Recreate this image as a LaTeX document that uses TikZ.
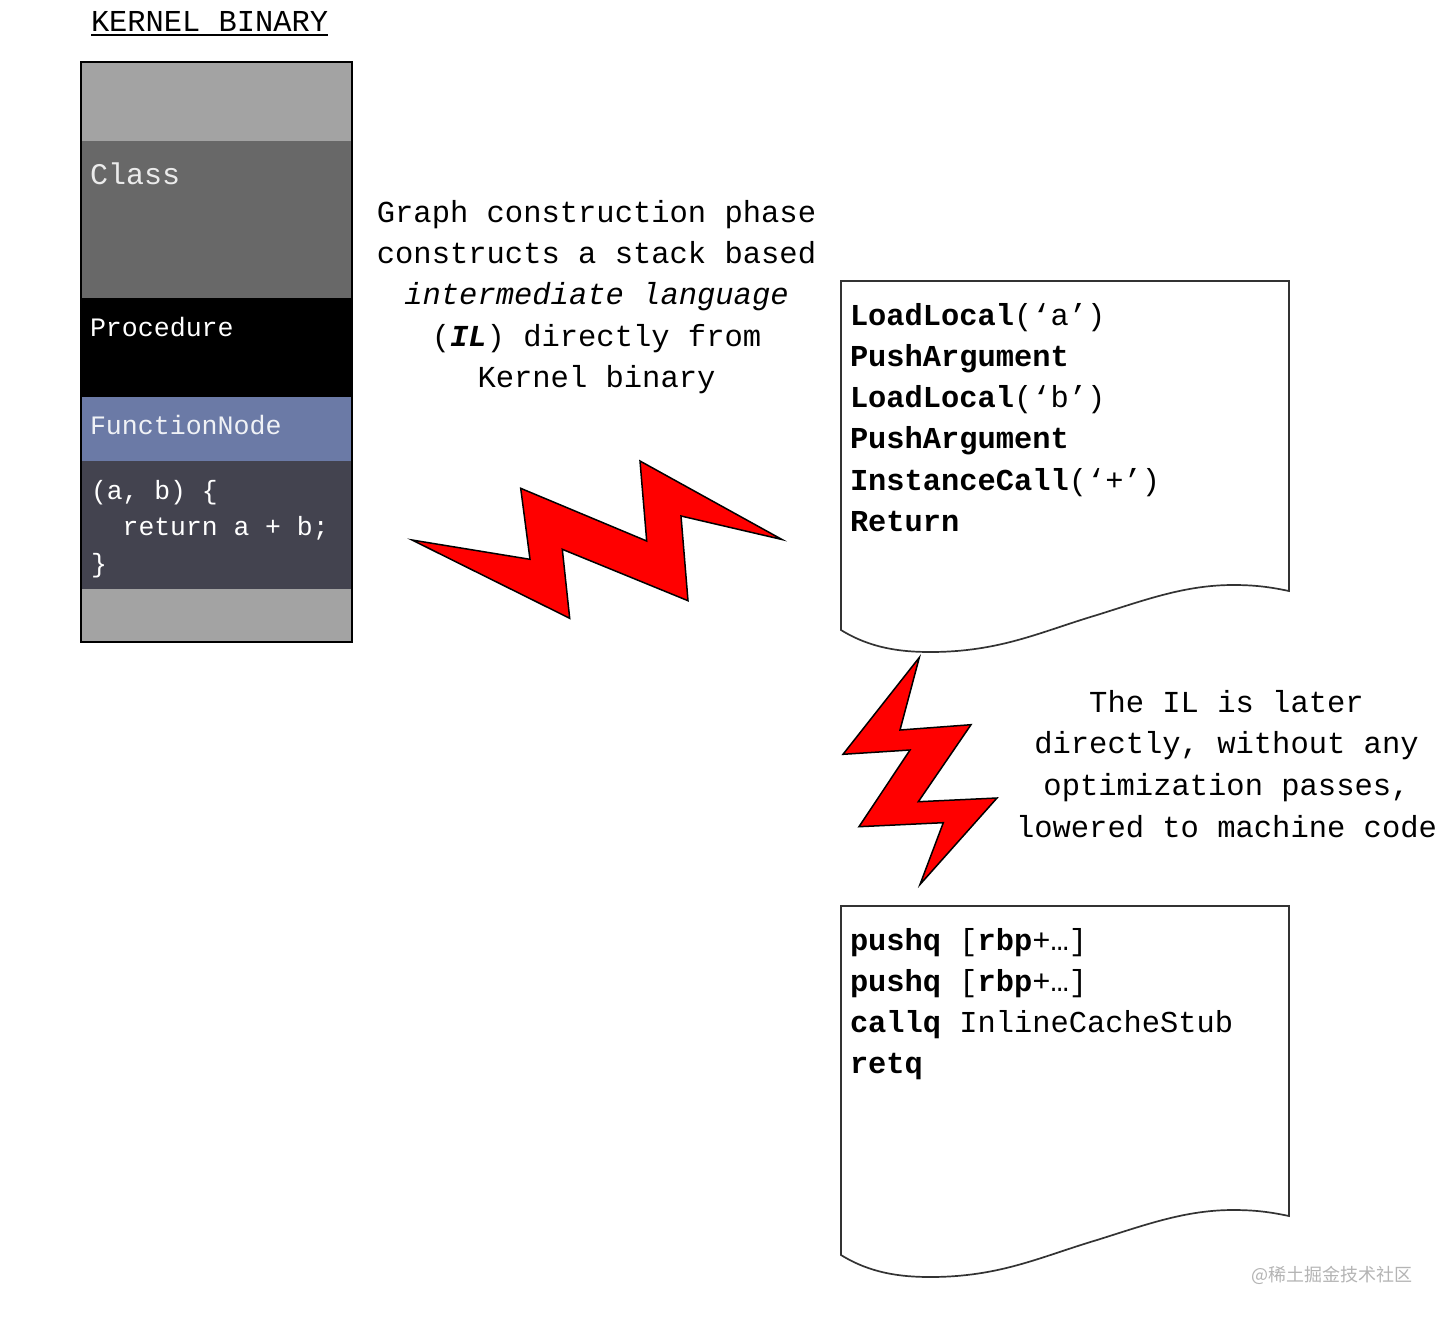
\documentclass[tikz,border=0pt]{standalone}
\usepackage{fontspec}
\setmainfont{Liberation Mono}
\newfontfamily\cjkwm{Noto Sans CJK SC}
\definecolor{bandlight}{HTML}{A3A3A3}
\definecolor{bandclass}{HTML}{686868}
\definecolor{bandfunc}{HTML}{6B7AA6}
\definecolor{bandbody}{HTML}{43434F}
\definecolor{boltred}{HTML}{FF0000}
\definecolor{wmgray}{HTML}{B4B4B4}
\definecolor{docline}{HTML}{333333}
\newcommand{\fstl}{\rule{0pt}{24pt}}
\newcommand{\docoutline}{(841,281) -- (1289,281) -- (1289,591)
  .. controls (1270,587) and (1255,585) .. (1233,585)
  .. controls (1185,585) and (1145,600) .. (1097,615)
  .. controls (1040,632) and (1000,652) .. (930,652)
  .. controls (900,652) and (870,648) .. (841,630) -- cycle}
\tikzset{
  x=1pt,y=-1pt,
  bolt/.style={draw=black,line width=1.5pt,fill=boltred,line join=miter,miter limit=10},
  docshape/.style={draw=docline,line width=1.7pt,fill=white},
  txt/.style={inner sep=0pt,outer sep=0pt,anchor=north west,align=left},
  para/.style={inner sep=0pt,outer sep=0pt,anchor=north,align=center,text=black},
  doctxt/.style={txt,text=black,font=\fontsize{30.4}{41.3}\selectfont},
  lbl/.style={inner sep=0pt,outer sep=0pt,anchor=base west}
}
\begin{document}
\begin{tikzpicture}
\useasboundingbox (0,0) rectangle (1444,1318);
\fill[white] (0,0) rectangle (1444,1318);
% kernel binary
\node[lbl,font=\fontsize{30.4}{36}\selectfont] (title) at (91,31) {KERNEL BINARY};
\draw[line width=1.4pt] ([yshift=-4pt]title.base west) -- ([yshift=-4pt]title.base east);
\fill[bandlight] (81,62) rectangle (352,141);
\fill[bandclass] (81,141) rectangle (352,298);
\fill[black] (81,298) rectangle (352,396.5);
\fill[bandfunc] (81,396.5) rectangle (352,461);
\fill[bandbody] (81,461) rectangle (352,589);
\fill[bandlight] (81,589) rectangle (352,642);
\draw[line width=1.6pt] (81,62) rectangle (352,642);
\node[lbl,text=white!92!black,font=\fontsize{30}{36}\selectfont] (cls) at (90,184) {Class};
\node[lbl,text=white,font=\fontsize{26.6}{32}\selectfont] (proc) at (90,336) {Procedure};
\node[lbl,text=white!90!bandfunc,font=\fontsize{26.6}{32}\selectfont] (fn) at (90,434) {FunctionNode};
\node[txt,text=white,font=\fontsize{26.4}{36.5}\selectfont] (code) at (91,475) {\fstl(a, b) \{\\\ \ return a + b;\\\}};
% paragraph 1
\node[para,font=\fontsize{30.5}{41.4}\selectfont] (p1) at (596.5,198) {\fstl Graph construction phase\\constructs a stack based\\\textit{intermediate language}\\(\textbf{\textit{IL}}) directly from\\Kernel binary};
% bolt 1
\draw[bolt] (412,540) -- (530,559.3) -- (520.7,488.3) -- (646.7,541) -- (640,461) -- (782,539.5) -- (681,516) -- (688,600.7) -- (562.3,549.3) -- (569.7,618.3) -- cycle;
% doc 1
\draw[docshape] \docoutline;
\node[doctxt] (il) at (850,301) {\fstl\textbf{LoadLocal}(‘a’)\\\textbf{PushArgument}\\\textbf{LoadLocal}(‘b’)\\\textbf{PushArgument}\\\textbf{InstanceCall}(‘+’)\\\textbf{Return}};
% bolt 2
\draw[bolt] (919.3,657.5) -- (900,730) -- (971,724.7) -- (918.3,801.7) -- (997,798) -- (920,884.5) -- (943.3,822.7) -- (859,826.7) -- (910,750) -- (843,754.3) -- cycle;
% paragraph 2
\node[para,font=\fontsize{30.5}{41.7}\selectfont] (p2) at (1226.5,688) {\fstl The IL is later\\directly, without any\\optimization passes,\\lowered to machine code};
% doc 2
\begin{scope}[yshift=-625pt]
\draw[docshape] \docoutline;
\end{scope}
\node[doctxt] (asm) at (850,926) {\fstl\textbf{pushq} [\textbf{rbp}+…]\\\textbf{pushq} [\textbf{rbp}+…]\\\textbf{callq} InlineCacheStub\\\textbf{retq}};
% watermark
\node[lbl,text=wmgray,font=\cjkwm\fontsize{18}{22}\selectfont] (wm) at (1251,1281) {@稀土掘金技术社区};
\end{tikzpicture}
\end{document}
